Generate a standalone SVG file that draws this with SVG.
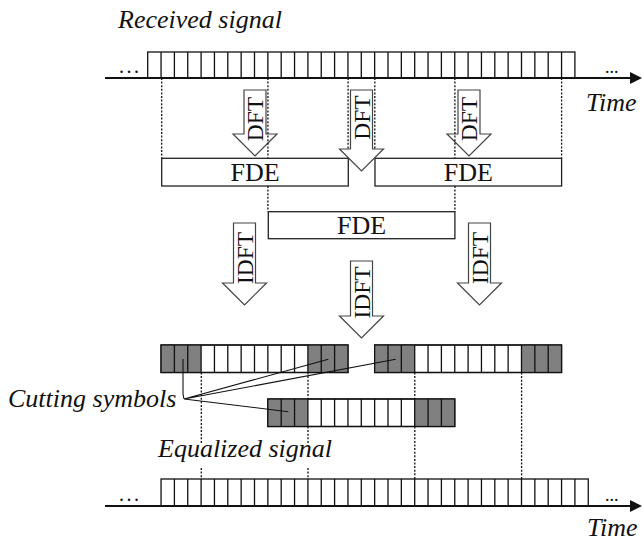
<svg xmlns="http://www.w3.org/2000/svg" width="642" height="541" viewBox="0 0 642 541">
  <style>
    .lbl { font-family: "Liberation Serif", "Times New Roman", serif; font-style: italic; font-size: 26px; fill: #111; }
    .box-text { font-family: "Liberation Serif", "Times New Roman", serif; font-size: 26px; fill: #111; text-anchor: middle; }
    .arrow-text { font-family: "Liberation Serif", "Times New Roman", serif; font-size: 23.5px; fill: #111; text-anchor: middle; }
    .dots { font-family: "Liberation Serif", "Times New Roman", serif; font-size: 20px; fill: #111; letter-spacing: 2.5px; }
    .dots-r { font-family: "Liberation Serif", "Times New Roman", serif; font-size: 18px; fill: #111; }
    .cell { fill: #fff; stroke: #111; stroke-width: 1.3; }
    .div { fill: none; stroke: #111; stroke-width: 1.3; }
    .gray { fill: #808080; stroke: none; }
    .fde { fill: #fff; stroke: #222; stroke-width: 1.3; }
    .arr { fill: #fff; stroke: #444; stroke-width: 1.2; stroke-linejoin: miter; }
    .axis { stroke: #111; stroke-width: 2; fill: none; }
    .guide { stroke: #111; stroke-width: 1.3; stroke-dasharray: 2 1.6; fill: none; }
    .leader { stroke: #111; stroke-width: 1.1; fill: none; }
  </style>

  <!-- received signal on the time axis -->
  <g id="received-signal">
    <text class="lbl" x="118" y="28">Received signal</text>
    <rect class="cell" x="147.7" y="52" width="427.2" height="26"/>
    <path class="div" d="M161.05 52v26m13.35-26v26m13.35-26v26m13.35-26v26m13.35-26v26m13.35-26v26m13.35-26v26m13.35-26v26m13.35-26v26m13.35-26v26m13.35-26v26m13.35-26v26m13.35-26v26m13.35-26v26m13.35-26v26m13.35-26v26m13.35-26v26m13.35-26v26m13.35-26v26m13.35-26v26m13.35-26v26m13.35-26v26m13.35-26v26m13.35-26v26m13.35-26v26m13.35-26v26m13.35-26v26m13.35-26v26m13.35-26v26m13.35-26v26m13.35-26v26"/>
    <line class="axis" x1="105" y1="78" x2="632" y2="78"/>
    <polygon points="630,72 642,78 630,84" fill="#111"/>
    <text class="dots" x="119" y="73">...</text>
    <text class="dots-r" x="605" y="73">...</text>
    <text class="lbl" x="586" y="111">Time</text>
  </g>

  <!-- frequency-domain equalizer blocks -->
  <g id="fde-1">
    <rect class="fde" x="161.7" y="158.3" width="186.6" height="27.7"/>
    <text class="box-text" x="255" y="181">FDE</text>
  </g>
  <g id="fde-2">
    <rect class="fde" x="375" y="158.3" width="186.6" height="27.7"/>
    <text class="box-text" x="468.3" y="181">FDE</text>
  </g>
  <g id="fde-3">
    <rect class="fde" x="268.3" y="211.7" width="186.6" height="27"/>
    <text class="box-text" x="361.6" y="234">FDE</text>
  </g>

  <!-- DFT arrows -->
  <g id="dft-1">
    <path class="arr" d="M244,90H266V134H277L255,156L233,134H244Z"/>
    <text class="arrow-text" transform="translate(263,119) rotate(-90)">DFT</text>
  </g>
  <g id="dft-2">
    <path class="arr" d="M350.5,90H372.5V149H383.5L361.5,171L339.5,149H350.5Z"/>
    <text class="arrow-text" transform="translate(369.5,117.5) rotate(-90)">DFT</text>
  </g>
  <g id="dft-3">
    <path class="arr" d="M458,90H480V134H491L469,156L447,134H458Z"/>
    <text class="arrow-text" transform="translate(477,119) rotate(-90)">DFT</text>
  </g>

  <!-- IDFT arrows -->
  <g id="idft-1">
    <path class="arr" d="M233.5,223H255.5V283H266.5L244.5,305L222.5,283H233.5Z"/>
    <text class="arrow-text" transform="translate(253,258) rotate(-90)">IDFT</text>
  </g>
  <g id="idft-2">
    <path class="arr" d="M350.5,261H372.5V316H383.5L361.5,338L339.5,316H350.5Z"/>
    <text class="arrow-text" transform="translate(370,292.5) rotate(-90)">IDFT</text>
  </g>
  <g id="idft-3">
    <path class="arr" d="M468.5,223H490.5V283H501.5L479.5,305L457.5,283H468.5Z"/>
    <text class="arrow-text" transform="translate(488,258) rotate(-90)">IDFT</text>
  </g>

  <!-- equalized blocks: 3 cut symbols at each end -->
  <g id="block-1">
    <rect class="cell" x="161.05" y="345" width="186.9" height="27.5"/>
    <rect class="gray" x="161.05" y="345" width="40.05" height="27.5"/>
    <rect class="gray" x="307.9" y="345" width="40.05" height="27.5"/>
    <rect class="div" x="161.05" y="345" width="186.9" height="27.5"/>
    <path class="div" d="M174.4 345v27.5m13.35-27.5v27.5m13.35-27.5v27.5m13.35-27.5v27.5m13.35-27.5v27.5m13.35-27.5v27.5m13.35-27.5v27.5m13.35-27.5v27.5m13.35-27.5v27.5m13.35-27.5v27.5m13.35-27.5v27.5m13.35-27.5v27.5m13.35-27.5v27.5"/>
  </g>
  <g id="block-2">
    <rect class="cell" x="374.65" y="345" width="186.9" height="27.5"/>
    <rect class="gray" x="374.65" y="345" width="40.05" height="27.5"/>
    <rect class="gray" x="521.5" y="345" width="40.05" height="27.5"/>
    <rect class="div" x="374.65" y="345" width="186.9" height="27.5"/>
    <path class="div" d="M388 345v27.5m13.35-27.5v27.5m13.35-27.5v27.5m13.35-27.5v27.5m13.35-27.5v27.5m13.35-27.5v27.5m13.35-27.5v27.5m13.35-27.5v27.5m13.35-27.5v27.5m13.35-27.5v27.5m13.35-27.5v27.5m13.35-27.5v27.5m13.35-27.5v27.5"/>
  </g>
  <g id="block-3">
    <rect class="cell" x="267.85" y="399" width="186.9" height="27.5"/>
    <rect class="gray" x="267.85" y="399" width="40.05" height="27.5"/>
    <rect class="gray" x="414.7" y="399" width="40.05" height="27.5"/>
    <rect class="div" x="267.85" y="399" width="186.9" height="27.5"/>
    <path class="div" d="M281.2 399v27.5m13.35-27.5v27.5m13.35-27.5v27.5m13.35-27.5v27.5m13.35-27.5v27.5m13.35-27.5v27.5m13.35-27.5v27.5m13.35-27.5v27.5m13.35-27.5v27.5m13.35-27.5v27.5m13.35-27.5v27.5m13.35-27.5v27.5m13.35-27.5v27.5"/>
  </g>

  <g id="cutting-label">
    <text class="lbl" x="8" y="407">Cutting symbols</text>
  </g>

  <!-- equalized signal on the time axis -->
  <g id="equalized-signal">
    <text class="lbl" x="158" y="457">Equalized signal</text>
    <rect class="cell" x="161.05" y="479" width="427.2" height="27"/>
    <path class="div" d="M174.4 479v27m13.35-27v27m13.35-27v27m13.35-27v27m13.35-27v27m13.35-27v27m13.35-27v27m13.35-27v27m13.35-27v27m13.35-27v27m13.35-27v27m13.35-27v27m13.35-27v27m13.35-27v27m13.35-27v27m13.35-27v27m13.35-27v27m13.35-27v27m13.35-27v27m13.35-27v27m13.35-27v27m13.35-27v27m13.35-27v27m13.35-27v27m13.35-27v27m13.35-27v27m13.35-27v27m13.35-27v27m13.35-27v27m13.35-27v27m13.35-27v27"/>
    <line class="axis" x1="105" y1="506" x2="632" y2="506"/>
    <polygon points="630,500 642,506 630,512" fill="#111"/>
    <text class="dots" x="119" y="501">...</text>
    <text class="dots-r" x="605" y="501">...</text>
    <text class="lbl" x="587" y="536">Time</text>
  </g>

  <!-- connectors: dotted window guides and label leaders -->
  <g id="connectors">
    <path class="guide" d="M161.7 78V158.3M267.9 78V158.3M267.9 186V211.7M348.1 78V149M374.8 78V149M454.9 78V158.3M454.9 186V211.7M561.6 78V158.3"/>
    <path class="guide" d="M201.3 372.5V443M201.3 468V479M308 372.5V399M308 426.5V443M308 468V479M414.8 372.5V399M414.8 426.5V479M521.6 372.5V479"/>
    <path class="leader" d="M183 359L183 394L184 399M184 399L328.3 359.3M184 399L395.7 359.3M184 399L288.3 411.7"/>
  </g>
</svg>
